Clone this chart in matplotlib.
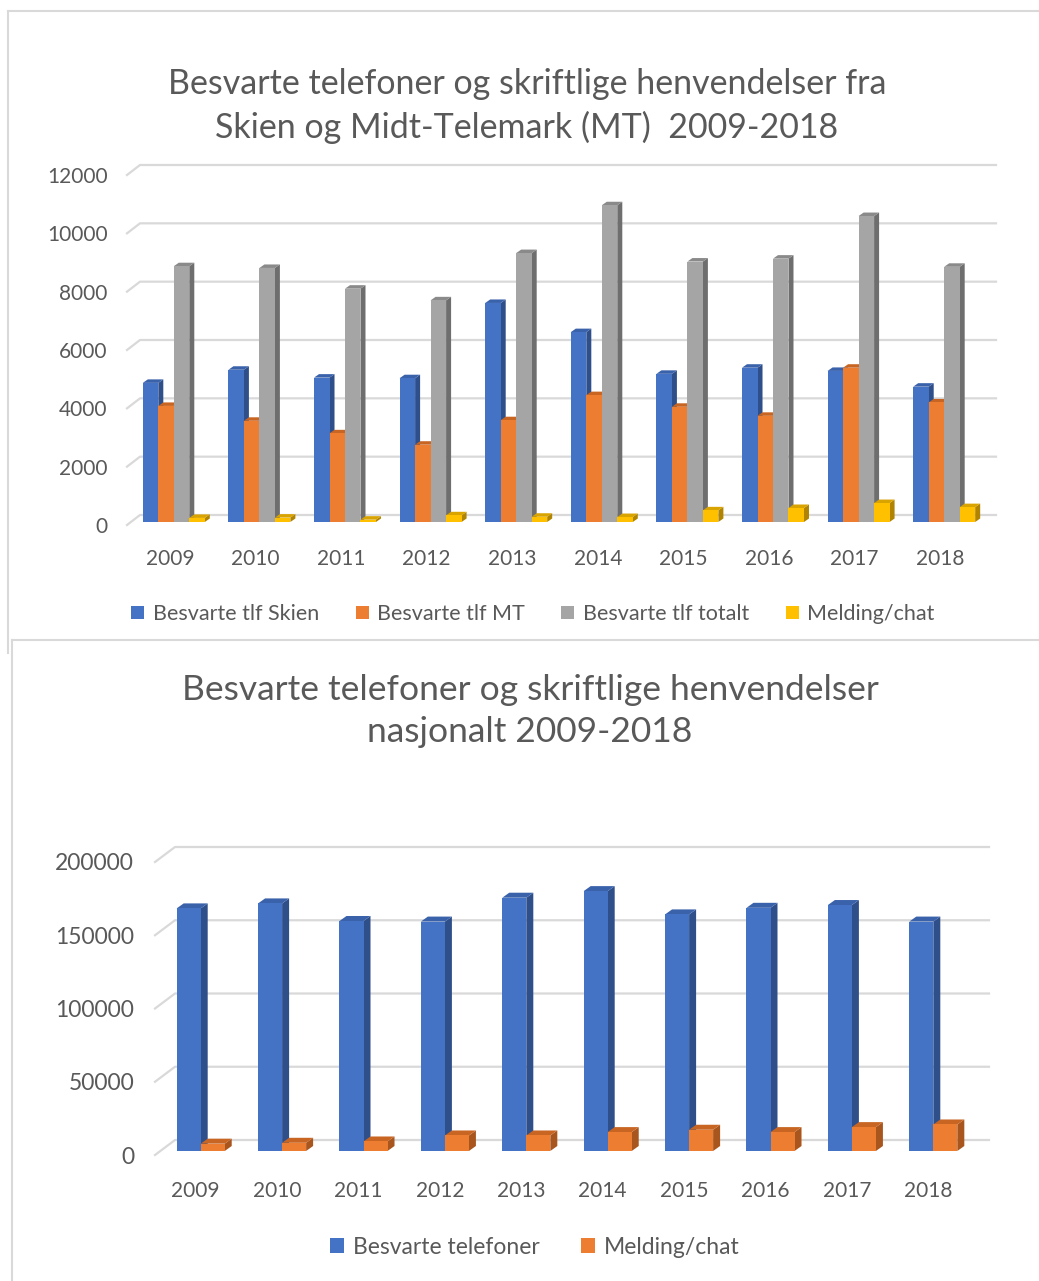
import matplotlib
matplotlib.use('Agg')
import matplotlib.pyplot as plt
from matplotlib.patches import Polygon, Patch, Rectangle
from matplotlib.lines import Line2D
from matplotlib.transforms import IdentityTransform

plt.rcParams['font.family'] = ['Lato', 'DejaVu Sans']

# Data
years = ['2009', '2010', '2011', '2012', '2013', '2014', '2015', '2016', '2017', '2018']
tlf_skien = [4770, 5220, 4950, 4930, 7510, 6510, 5080, 5290, 5180, 4640]
tlf_mt = [3980, 3470, 3040, 2650, 3490, 4350, 3950, 3640, 5290, 4100]
tlf_totalt = [8770, 8710, 8000, 7600, 9220, 10860, 8930, 9030, 10490, 8750]
chat_top = [140, 150, 80, 230, 180, 170, 400, 480, 650, 510]
top_names = ['Besvarte tlf Skien', 'Besvarte tlf MT', 'Besvarte tlf totalt', 'Melding/chat']

tlf_nasjonalt = [165600, 169000, 157000, 156600, 172900, 177400, 161500, 166000, 167900, 156600]
chat_nasjonalt = [5000, 5600, 6500, 10600, 10600, 12900, 14500, 12900, 16300, 18100]
bottom_names = ['Besvarte telefoner', 'Melding/chat']

# colours: front, side, top
blue = ('#4472C4', '#2E4F8A', '#3A62AB')
orange = ('#ED7D31', '#A9551E', '#C86523')
gray = ('#A5A5A5', '#6E6E6E', '#8A8A8A')
yellow = ('#FFC000', '#B08400', '#D9A300')
txt = '#595959'
grid_c = '#D9D9D9'

W, H = 1039, 1281
fig = plt.figure(figsize=(W / 100, H / 100), dpi=100)


def px_axes(left, top, right, bottom):
    # axes box from pixel edges (y measured from image top)
    return fig.add_axes([left / W, (H - bottom) / H, (right - left) / W, (bottom - top) / H])


def draw_3d_chart(ax, series, colors, width, ymax, ystep, bar_off, depth, wall, ysize):
    n = len(years)
    ax.set_xlim(-0.5, n - 0.5)
    ax.set_ylim(0, ymax)
    for s in ax.spines.values():
        s.set_visible(False)
    ax.set_xticks(range(n))
    ax.set_xticklabels(years)
    ticks = list(range(0, ymax + 1, ystep))
    ax.set_yticks(ticks)
    ax.set_yticklabels([str(t) for t in ticks])
    ax.tick_params(length=0, colors=txt, labelsize=15)
    ax.tick_params(axis='y', labelsize=ysize)
    fig.canvas.draw()
    td = ax.transData
    ident = IdentityTransform()

    # back wall gridlines with side-wall stubs
    for t in ticks:
        x0, y0 = td.transform((-0.5, t))
        x1, _ = td.transform((n - 0.5, t))
        ax.add_line(Line2D([x0, x0 + wall[0], x1 + wall[0]], [y0, y0 + wall[1], y0 + wall[1]],
                           color=grid_c, lw=1.6, transform=ident, clip_on=False, zorder=1))

    k = len(series)
    z = 2
    for i in range(n):
        for j, (vals, col) in enumerate(zip(series, colors)):
            xc = i + (j - (k - 1) / 2) * width
            xl, yb = td.transform((xc - width / 2, 0))
            xr, yt = td.transform((xc + width / 2, vals[i]))
            xl += bar_off[0]; xr += bar_off[0]
            yb += bar_off[1]; yt += bar_off[1]
            dx, dy = depth
            side = Polygon([(xr, yb), (xr + dx, yb + dy), (xr + dx, yt + dy), (xr, yt)],
                           closed=True, facecolor=col[1], edgecolor='none',
                           transform=ident, clip_on=False, zorder=z)
            top = Polygon([(xl, yt), (xl + dx, yt + dy), (xr + dx, yt + dy), (xr, yt)],
                          closed=True, facecolor=col[2], edgecolor='none',
                          transform=ident, clip_on=False, zorder=z)
            front = Rectangle((xl, yb), xr - xl, yt - yb, facecolor=col[0], edgecolor='none',
                              transform=ident, clip_on=False, zorder=z + 0.5)
            ax.add_patch(side)
            ax.add_patch(top)
            ax.add_patch(front)
            z += 1


# panel borders
fig.add_artist(Line2D([8 / W, 1.0], [(H - 11) / H, (H - 11) / H], color=grid_c, lw=1.5))
fig.add_artist(Line2D([8 / W, 8 / W], [(H - 11) / H, (H - 653) / H], color=grid_c, lw=1.5))
fig.add_artist(Line2D([12 / W, 1.0], [(H - 640) / H, (H - 640) / H], color=grid_c, lw=1.5))
fig.add_artist(Line2D([12 / W, 12 / W], [(H - 640) / H, 0], color=grid_c, lw=1.5))

# top chart
ax1 = px_axes(127, 175, 983, 525)
draw_3d_chart(ax1, [tlf_skien, tlf_mt, tlf_totalt, chat_top], [blue, orange, gray, yellow],
              0.181, 12000, 2000, (4, 3), (5, 3.5), (13, 10), 15)
ax1.tick_params(axis='y', pad=14)
ax1.tick_params(axis='x', pad=17)
fig.text(527 / W, (H - 106) / H,
         'Besvarte telefoner og skriftlige henvendelser fra\nSkien og Midt-Telemark (MT)  2009-2018',
         ha='center', va='center', fontsize=24.5, color=txt, linespacing=1.42)
fig.legend(handles=[Patch(facecolor=c[0]) for c in [blue, orange, gray, yellow]], labels=top_names,
           loc='center', bbox_to_anchor=(533 / W, (H - 614) / H), ncol=4, frameon=False,
           fontsize=15.5, handlelength=0.6, handleheight=0.6, handletextpad=0.4,
           columnspacing=1.7, labelcolor=txt)

# bottom chart
ax2 = px_axes(155, 862, 969, 1155)
draw_3d_chart(ax2, [tlf_nasjonalt, chat_nasjonalt], [blue, orange],
              0.295, 200000, 50000, (5, 4), (7, 5), (20, 15), 16.5)
ax2.tick_params(axis='y', pad=15)
ax2.tick_params(axis='x', pad=19)
fig.text(530 / W, (H - 711) / H,
         'Besvarte telefoner og skriftlige henvendelser\nnasjonalt 2009-2018',
         ha='center', va='center', fontsize=25.5, color=txt, linespacing=1.42)
fig.legend(handles=[Patch(facecolor=c[0]) for c in [blue, orange]], labels=bottom_names,
           loc='center', bbox_to_anchor=(535 / W, (H - 1247) / H), ncol=2, frameon=False,
           fontsize=16.5, handlelength=0.6, handleheight=0.6, handletextpad=0.4,
           columnspacing=1.8, labelcolor=txt)

fig.savefig('out.png', dpi=100)
